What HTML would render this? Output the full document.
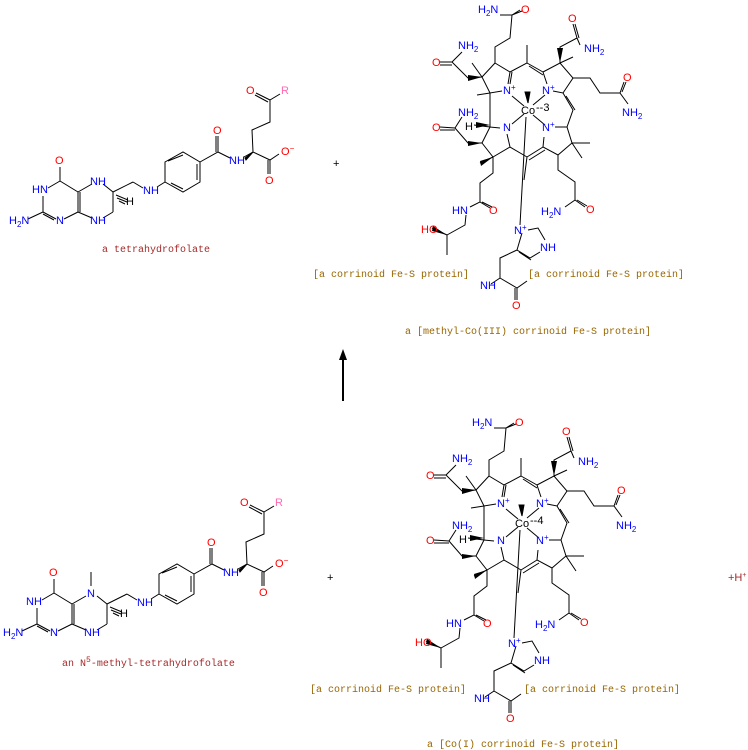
<!DOCTYPE html>
<html><head><meta charset="utf-8"><style>
html,body{margin:0;padding:0;background:#fff;}
svg{display:block;}
text{font-family:"Liberation Sans",sans-serif;font-size:11px;}
.b{fill:#0000ff}.r{fill:#ff0000}.k{fill:#000}.p{fill:#ff69b4}
.lab{font-family:"Liberation Mono",monospace;font-size:10px;}
.brn{fill:#996600}.dr{fill:#a52a2a}
</style></head><body>
<svg width="748" height="750" viewBox="0 0 748 750" xmlns="http://www.w3.org/2000/svg">
<defs>
<g id="fol" stroke="#000" stroke-width="1" fill="none">
  <path d="M60,167 L60,181 M60,181 L48,188 M60,181 L78,192 M78,192 L78,212 M80,192 L80,212 M78,192 L92,184 M78,212 L92,218 M78,212 L64,219 M56,219 L43,212 M43,212 L43,196 M43,214 L54,220 M43,212 L28,219"/>
  <path d="M103,184 L113,192 M113,192 L113,212 M113,212 L103,218 M113,192 L133,182 M133,182 L143,188"/>
  <path d="M157,187 L165,182 M165,182 L165,162 L183,152 L200,162 L200,182 L183,192 Z M168,161 L183,155 M197,164 L197,180 M171,183 L183,189 M200,162 L218,152 L230,158 M218,152 L218,136 M216,152 L216,136"/>
  <path d="M244,157 L253,152 L270,160 L279,154 M270,160 L270,174 M268,160 L268,174 M253,152 L252,130 L270,122 L270,100 L280,94 M270,100 L256,93 M268,102 L255,95"/>
  <path d="M245,158 L253,152 L246,160 Z" fill="#000"/>
  <path d="M116,195 L128,200 M117,198 L127,202 M119,201 L125,204"/>
</g>
<g id="cob" stroke="#000" stroke-width="1" fill="none">
  <path d="M500,15 L512,15 L520,10 M512,15 L522,11 M512,15 L510,38 L495,47 L495,63"/>
  <path d="M495,63 L482,77 L490,93 L502,91 M495,63 L510,72 L508,84 M512,72 L510,84"/>
  <path d="M527,45 L527,63 L510,72 M527,63 L543,72 M529,66 L543,75"/>
  <path d="M543,72 L560,63 L573,78 L563,93 L553,91 M543,72 L547,84 M560,63 L560,47 L577,38 L580,45 M577,38 L573,24 M579,38 L575,24 M560,63 L573,57"/>
  <path d="M573,78 L590,78 L600,93 L620,93 L624,82 M620,93 L628,104 M622,92 L626,82"/>
  <path d="M563,93 L573,110 L567,127 M566,96 L575,110"/>
  <path d="M567,127 L572,143 L558,155 L543,147 L544,137 M567,127 L555,127 M572,143 L590,143 M572,143 L582,158 M558,155 L558,170 L575,182 L575,200 L565,207 M575,200 L585,207 M577,200 L587,206"/>
  <path d="M543,147 L527,157 M545,150 L529,160"/>
  <path d="M527,157 L510,147 L507,134 M510,147 L493,157 L482,143 L490,127 L500,128 M490,127 L490,93 M490,127 L474,125"/>
  <path d="M482,143 L468,143 L455,128 L440,127 M455,130 L440,130 M455,128 L462,117"/>
  <path d="M482,77 L468,78 L452,62 L440,62 M452,65 L440,65 M452,62 L462,52 M482,77 L472,63 M490,93 L477,95"/>
  <path d="M493,157 L480,163 M493,157 L493,173 L480,183 L480,202 L470,207 M480,202 L490,208 M482,202 L492,207"/>
  <path d="M466,215 L465,225 L447,235 L447,255 M447,235 L432,228"/>
  <path d="M512,96 L524,106 M533,105 L545,95 M512,124 L524,114 M533,115 L545,125 M526,117 L520,225 M527,157 L524,180"/>
  <path d="M522,233 L517,250 L530,258 L540,252 M517,250 L500,258 L500,278 L491,284 M500,278 L517,288 L527,281 M517,288 L517,300 M515,288 L515,300 M528,230 L538,228 L545,240 M519,252 L531,260"/>
  <path d="M525,92 L530,92 L528,103 Z" fill="#000"/>
  <path d="M490,125 L476,122 L476,128 Z M482,77 L468,75 L468,81 Z M482,143 L468,141 L468,146 Z M560,63 L557,48 L563,48 Z M493,157 L480,161 L481,166 Z M447,235 L433,226 L432,231 Z" fill="#000" stroke="none"/>
</g>
</defs>

<use href="#fol"/>
<text x="55" y="164" class="r">O</text>
<text x="32" y="193" class="b">HN</text>
<text x="9" y="224" class="b">H<tspan font-size="8" dy="3">2</tspan><tspan dy="-3">N</tspan></text>
<text x="56" y="224" class="b">N</text>
<text x="90" y="185" class="b">NH</text>
<text x="90" y="224" class="b">NH</text>
<text x="126" y="205" class="k">H</text>
<text x="143" y="194" class="b">NH</text>
<text x="213" y="134" class="r">O</text>
<text x="229" y="164" class="b">NH</text>
<text x="281" y="155" class="r">O<tspan font-size="8" dy="-4">−</tspan></text>
<text x="265" y="184" class="r">O</text>
<text x="246" y="94" class="r">O</text>
<text x="281" y="94" class="p">R</text>
<text x="102" y="252" class="lab dr">a tetrahydrofolate</text>

<text x="333" y="167" class="k" font-size="9">+</text>

<use href="#cob"/>
<text x="478" y="13" class="b">H<tspan font-size="8" dy="3">2</tspan><tspan dy="-3">N</tspan></text>
<text x="521" y="13" class="r">O</text>
<text x="458" y="49" class="b">NH<tspan font-size="8" dy="3">2</tspan></text>
<text x="432" y="66" class="r">O</text>
<text x="568" y="22" class="r">O</text>
<text x="584" y="52" class="b">NH<tspan font-size="8" dy="3">2</tspan></text>
<text x="623" y="81" class="r">O</text>
<text x="622" y="116" class="b">NH<tspan font-size="8" dy="3">2</tspan></text>
<text x="503" y="94" class="b">N<tspan font-size="8" dy="-4">+</tspan></text>
<text x="542" y="94" class="b">N<tspan font-size="8" dy="-4">+</tspan></text>
<text x="503" y="131" class="b">N</text>
<text x="542" y="131" class="b">N<tspan font-size="8" dy="-4">+</tspan></text>
<text x="521" y="114" class="k">Co</text>
<text x="536" y="111" class="k">--3</text>
<text x="458" y="116" class="b">NH<tspan font-size="8" dy="3">2</tspan></text>
<text x="432" y="131" class="r">O</text>
<text x="465" y="130" class="k">H</text>
<text x="541" y="215" class="b">H<tspan font-size="8" dy="3">2</tspan><tspan dy="-3">N</tspan></text>
<text x="586" y="213" class="r">O</text>
<text x="452" y="214" class="b">HN</text>
<text x="489" y="214" class="r">O</text>
<text x="421" y="233" class="r">HO</text>
<text x="514" y="234" class="b">N<tspan font-size="8" dy="-4">+</tspan></text>
<text x="540" y="251" class="b">NH</text>
<text x="480" y="289" class="b">NH</text>
<text x="512" y="309" class="r">O</text>
<text x="313" y="277" class="lab brn">[a corrinoid Fe-S protein]</text>
<text x="528" y="277" class="lab brn">[a corrinoid Fe-S protein]</text>
<text x="405" y="334" class="lab brn">a [methyl-Co(III) corrinoid Fe-S protein]</text>

<line x1="343" y1="401" x2="343" y2="358" stroke="#000" stroke-width="2"/>
<path d="M343,349 L339,360 L347,360 Z" fill="#000"/>

<g transform="translate(-6,412)">
<use href="#fol"/>
<path d="M97,174 L97,160" stroke="#000"/>
<text x="55" y="164" class="r">O</text>
<text x="32" y="193" class="b">NH</text>
<text x="9" y="224" class="b">H<tspan font-size="8" dy="3">2</tspan><tspan dy="-3">N</tspan></text>
<text x="56" y="224" class="b">N</text>
<text x="93" y="185" class="b">N</text>
<text x="90" y="224" class="b">NH</text>
<text x="126" y="205" class="k">H</text>
<text x="143" y="194" class="b">NH</text>
<text x="213" y="134" class="r">O</text>
<text x="229" y="164" class="b">NH</text>
<text x="281" y="155" class="r">O<tspan font-size="8" dy="-4">−</tspan></text>
<text x="265" y="184" class="r">O</text>
<text x="246" y="94" class="r">O</text>
<text x="281" y="94" class="p">R</text>
</g>
<text x="62" y="666" class="lab dr">an N<tspan font-size="8" dy="-4">5</tspan><tspan dy="4">-methyl-tetrahydrofolate</tspan></text>

<text x="327" y="581" class="k" font-size="9">+</text>

<g transform="translate(-6,413)">
<use href="#cob"/>
<text x="478" y="13" class="b">H<tspan font-size="8" dy="3">2</tspan><tspan dy="-3">N</tspan></text>
<text x="521" y="13" class="r">O</text>
<text x="458" y="49" class="b">NH<tspan font-size="8" dy="3">2</tspan></text>
<text x="432" y="66" class="r">O</text>
<text x="568" y="22" class="r">O</text>
<text x="584" y="52" class="b">NH<tspan font-size="8" dy="3">2</tspan></text>
<text x="623" y="81" class="r">O</text>
<text x="622" y="116" class="b">NH<tspan font-size="8" dy="3">2</tspan></text>
<text x="503" y="94" class="b">N<tspan font-size="8" dy="-4">+</tspan></text>
<text x="542" y="94" class="b">N<tspan font-size="8" dy="-4">+</tspan></text>
<text x="503" y="131" class="b">N</text>
<text x="542" y="131" class="b">N<tspan font-size="8" dy="-4">+</tspan></text>
<text x="521" y="114" class="k">Co</text>
<text x="536" y="111" class="k">--4</text>
<text x="458" y="116" class="b">NH<tspan font-size="8" dy="3">2</tspan></text>
<text x="432" y="131" class="r">O</text>
<text x="465" y="130" class="k">H</text>
<text x="541" y="215" class="b">H<tspan font-size="8" dy="3">2</tspan><tspan dy="-3">N</tspan></text>
<text x="586" y="213" class="r">O</text>
<text x="452" y="214" class="b">HN</text>
<text x="489" y="214" class="r">O</text>
<text x="421" y="233" class="r">HO</text>
<text x="514" y="234" class="b">N<tspan font-size="8" dy="-4">+</tspan></text>
<text x="540" y="251" class="b">NH</text>
<text x="480" y="289" class="b">NH</text>
<text x="512" y="309" class="r">O</text>
</g>
<text x="310" y="692" class="lab brn">[a corrinoid Fe-S protein]</text>
<text x="524" y="692" class="lab brn">[a corrinoid Fe-S protein]</text>
<text x="427" y="747" class="lab brn">a [Co(I) corrinoid Fe-S protein]</text>

<text x="728" y="581" class="dr" font-size="10">+H<tspan font-size="7" dy="-4">+</tspan></text>
</svg>
</body></html>
